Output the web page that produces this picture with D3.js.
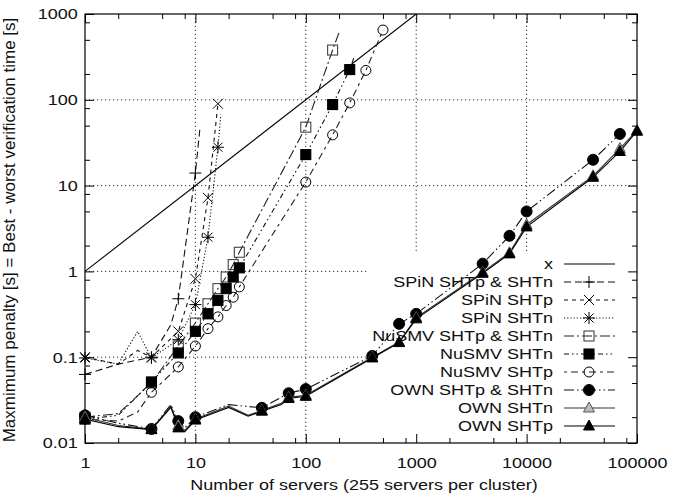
<!DOCTYPE html>
<html>
<head>
<meta charset="utf-8">
<script src="https://cdn.jsdelivr.net/npm/d3@7"></script>
<style>
  body { margin: 0; background: #fff; }
  text { font-family: "Liberation Sans", Arial, sans-serif; fill: #111; }
</style>
</head>
<body>
<svg id="chart" width="686" height="501"></svg>
<script>
// axis ticks
var xTicks = [1, 10, 100, 1000, 10000, 100000];
var xTickLabels = ["1", "10", "100", "1000", "10000", "100000"];
var yTicks = [0.01, 0.1, 1, 10, 100, 1000];
var yTickLabels = ["0.01", "0.1", "1", "10", "100", "1000"];
var minorSteps = [2, 5, 8];
var xGrid = [10, 100, 1000, 10000];
var yGrid = [0.1, 1, 10, 100];

var xLabel = "Number of servers (255 servers per cluster)";
var yLabel = "Maxmimum penalty [s] = Best - worst verification time [s]";

var seriesNames = ["x", "SPiN SHTp & SHTn", "SPiN SHTp", "SPiN SHTn",
  "NuSMV SHTp & SHTn", "NuSMV SHTn", "NuSMV SHTp",
  "OWN SHTp & SHTn", "OWN SHTn", "OWN SHTp"];

// [servers, seconds]
var lineX = [[1, 1], [1000, 1000]];
var spinBoth = [[1, 0.063], [2, 0.083], [4, 0.1], [6, 0.24], [7, 0.48], [10, 14], [11, 47]];
var spinP = [[1, 0.1], [2, 0.083], [3, 0.12], [4, 0.1], [7, 0.2], [10, 0.82], [13, 7.2], [16, 90]];
var spinN = [[1, 0.098], [2, 0.083], [3, 0.2], [4, 0.098], [7, 0.16], [10, 0.41], [13, 2.5], [16, 28], [17, 67]];
var nusmvBoth = [[1, 0.02], [2, 0.022], [4, 0.05], [7, 0.135], [10, 0.25], [13, 0.42], [16, 0.63], [19, 0.86],
  [22, 1.2], [25, 1.67], [100, 48], [175, 380], [200, 610]];
var nusmvN = [[1, 0.019], [2, 0.021], [4, 0.0515], [7, 0.112], [10, 0.2], [13, 0.32], [16, 0.46], [19, 0.63],
  [22, 0.86], [25, 1.1], [100, 23], [175, 88], [250, 225], [275, 320]];
var nusmvP = [[1, 0.019], [2, 0.018], [3, 0.023], [4, 0.039], [7, 0.077], [10, 0.135], [13, 0.215], [16, 0.295],
  [19, 0.4], [22, 0.5], [25, 0.66], [100, 11], [175, 39], [250, 92], [350, 220], [500, 650]];
var ownBoth = [[1, 0.021], [2, 0.017], [4, 0.0146], [6, 0.028], [7, 0.018], [8, 0.015], [10, 0.02], [20, 0.028],
  [40, 0.0257], [70, 0.038], [100, 0.0425], [400, 0.1035], [700, 0.245], [1000, 0.32], [4000, 1.23],
  [7000, 2.6], [10000, 5], [40000, 20], [70000, 40]];
var ownN = [[1, 0.02], [2, 0.016], [4, 0.0145], [6, 0.027], [7, 0.016], [8, 0.014], [10, 0.019], [20, 0.027],
  [30, 0.021], [40, 0.024], [60, 0.029], [70, 0.034], [100, 0.036], [400, 0.1], [700, 0.15], [1000, 0.29],
  [4000, 0.98], [7000, 1.65], [10000, 3.5], [40000, 13], [70000, 27], [100000, 44]];
var ownP = [[1, 0.019], [2, 0.0155], [4, 0.0143], [6, 0.026], [7, 0.015], [8, 0.0135], [10, 0.0185], [20, 0.026],
  [30, 0.0205], [40, 0.0235], [60, 0.028], [70, 0.033], [100, 0.035], [400, 0.098], [700, 0.148], [1000, 0.28],
  [4000, 0.95], [7000, 1.6], [10000, 3.3], [40000, 12.5], [70000, 25], [100000, 43]];

// x values that carry a point symbol
var spinMarks = [1, 4, 7, 10, 13, 16];
var nusmvMarks = [1, 4, 7, 10, 13, 16, 19, 22, 25, 100, 175, 250, 350, 500];
var ownMarks = [1, 4, 7, 10, 40, 70, 100, 400, 700, 1000, 4000, 7000, 10000, 40000, 70000, 100000];

var seriesData = [lineX, spinBoth, spinP, spinN, nusmvBoth, nusmvN, nusmvP, ownBoth, ownN, ownP];
var seriesMarks = [[], [1, 4, 7, 10], spinMarks, spinMarks, nusmvMarks, nusmvMarks, nusmvMarks,
  ownMarks, ownMarks, ownMarks];

// styles
var dashes = ["", "7,4", "4,4", "1.2,2", "10,3,2,3", "5,3,1.5,3,1.5,3", "3,4,7,4", "10,3,1.5,3,1.5,3", "", ""];
var strokes = ["#000", "#111", "#111", "#111", "#222", "#111", "#222", "#111", "#333", "#000"];
var symbols = [null, "plus", "cross", "star", "square", "fsquare", "circle", "fcircle", "triangle", "ftriangle"];

var plotL = 85, plotR = 637, plotT = 14, plotB = 443;
var TS = 1.2; // text is drawn a little wide

var svg = d3.select("#chart");
var x = d3.scaleLog().domain([1, 100000]).range([plotL, plotR]);
var y = d3.scaleLog().domain([0.01, 1000]).range([plotB, plotT]);

function minors(lo, hi) {
  var out = [];
  for (var d = lo; d < hi; d *= 10) minorSteps.forEach(function(m) { out.push(d * m); });
  return out;
}

// grid
var grid = svg.append("g").attr("stroke", "#333").attr("stroke-width", 1).attr("stroke-dasharray", "1.2,2.8");
grid.selectAll(".gx").data(xGrid).enter().append("line")
  .attr("x1", function(d) { return x(d); }).attr("x2", function(d) { return x(d); })
  .attr("y1", plotB).attr("y2", plotT);
grid.selectAll(".gy").data(yGrid).enter().append("line")
  .attr("y1", function(d) { return y(d); }).attr("y2", function(d) { return y(d); })
  .attr("x1", plotL).attr("x2", plotR);

// key box hides the grid
var keyLeft = 367, keyTop = 253;
svg.append("rect").attr("x", keyLeft).attr("y", keyTop).attr("width", plotR - keyLeft).attr("height", plotB - keyTop)
  .attr("fill", "#fff");

// axes
function styleAxis(g) {
  g.select(".domain").remove();
  g.attr("font-family", null).attr("font-size", 15);
  g.selectAll("line").attr("stroke", "#000").attr("stroke-width", 1);
  g.selectAll("text").attr("fill", "#111").attr("transform", "scale(" + TS + ",1)");
}
svg.append("g").attr("transform", "translate(0," + plotB + ")")
  .call(d3.axisBottom(x).tickValues(xTicks).tickFormat(function(d, i) { return xTickLabels[i]; })
    .tickSizeInner(-9).tickSizeOuter(0).tickPadding(14)).call(styleAxis);
svg.append("g").attr("transform", "translate(0," + plotB + ")")
  .call(d3.axisBottom(x).tickValues(minors(1, 100000)).tickFormat("").tickSizeInner(-5).tickSizeOuter(0)).call(styleAxis);
svg.append("g").attr("transform", "translate(0," + plotT + ")")
  .call(d3.axisTop(x).tickValues(xTicks).tickFormat("").tickSizeInner(-9).tickSizeOuter(0)).call(styleAxis);
svg.append("g").attr("transform", "translate(0," + plotT + ")")
  .call(d3.axisTop(x).tickValues(minors(1, 100000)).tickFormat("").tickSizeInner(-5).tickSizeOuter(0)).call(styleAxis);
svg.append("g").attr("transform", "translate(" + plotL + ",0)")
  .call(d3.axisLeft(y).tickValues(yTicks).tickFormat(function(d, i) { return yTickLabels[i]; })
    .tickSizeInner(-9).tickSizeOuter(0).tickPadding(6)).call(styleAxis);
svg.append("g").attr("transform", "translate(" + plotL + ",0)")
  .call(d3.axisLeft(y).tickValues(minors(0.01, 1000)).tickFormat("").tickSizeInner(-5).tickSizeOuter(0)).call(styleAxis);
svg.append("g").attr("transform", "translate(" + plotR + ",0)")
  .call(d3.axisRight(y).tickValues(yTicks).tickFormat("").tickSizeInner(-9).tickSizeOuter(0)).call(styleAxis);
svg.append("g").attr("transform", "translate(" + plotR + ",0)")
  .call(d3.axisRight(y).tickValues(minors(0.01, 1000)).tickFormat("").tickSizeInner(-5).tickSizeOuter(0)).call(styleAxis);

svg.append("rect").attr("x", plotL).attr("y", plotT).attr("width", plotR - plotL).attr("height", plotB - plotT)
  .attr("fill", "none").attr("stroke", "#000").attr("stroke-width", 1.2);

// axis titles
svg.append("text").attr("transform", "scale(" + TS + ",1)")
  .attr("x", 364 / TS).attr("y", 490).attr("text-anchor", "middle").attr("font-size", 15).text(xLabel);
svg.append("text").attr("transform", "translate(15,230) rotate(-90)")
  .attr("text-anchor", "middle").attr("font-size", 17).text(yLabel);

// point symbols
function drawSymbol(g, type, cx, cy) {
  var s = 5;
  if (type == "plus") {
    g.append("path").attr("d", "M" + (cx - 6) + "," + cy + "H" + (cx + 6) + "M" + cx + "," + (cy - 6) + "V" + (cy + 6))
      .attr("stroke", "#000").attr("stroke-width", 1);
  } else if (type == "cross") {
    g.append("path").attr("d", "M" + (cx - s) + "," + (cy - s) + "L" + (cx + s) + "," + (cy + s) +
      "M" + (cx - s) + "," + (cy + s) + "L" + (cx + s) + "," + (cy - s)).attr("stroke", "#000").attr("stroke-width", 1);
  } else if (type == "star") {
    g.append("path").attr("d", "M" + (cx - 6) + "," + cy + "H" + (cx + 6) + "M" + cx + "," + (cy - 6) + "V" + (cy + 6) +
      "M" + (cx - 4.5) + "," + (cy - 4.5) + "L" + (cx + 4.5) + "," + (cy + 4.5) +
      "M" + (cx - 4.5) + "," + (cy + 4.5) + "L" + (cx + 4.5) + "," + (cy - 4.5)).attr("stroke", "#000").attr("stroke-width", 1);
  } else if (type == "square" || type == "fsquare") {
    g.append("rect").attr("x", cx - s).attr("y", cy - s).attr("width", 2 * s).attr("height", 2 * s)
      .attr("fill", type == "fsquare" ? "#000" : "none").attr("stroke", type == "fsquare" ? "#000" : "#444").attr("stroke-width", 1.1);
  } else if (type == "circle" || type == "fcircle") {
    g.append("circle").attr("cx", cx).attr("cy", cy).attr("r", type == "fcircle" ? 5.5 : 5)
      .attr("fill", type == "fcircle" ? "#000" : "none").attr("stroke", "#000").attr("stroke-width", 1);
  } else if (type == "triangle" || type == "ftriangle") {
    g.append("path").attr("d", "M" + cx + "," + (cy - 6) + "L" + (cx + 5.5) + "," + (cy + 4) + "L" + (cx - 5.5) + "," + (cy + 4) + "Z")
      .attr("fill", type == "ftriangle" ? "#000" : "#bbb").attr("stroke", type == "ftriangle" ? "#000" : "#555").attr("stroke-width", 1);
  }
}

// key
var key = svg.append("g");
seriesNames.forEach(function(name, i) {
  var ky = 264 + 18 * i;
  key.append("text").attr("transform", "scale(" + TS + ",1)")
    .attr("x", 553 / TS).attr("y", ky).attr("dy", "0.35em").attr("text-anchor", "end").attr("font-size", 15).text(name);
  key.append("line").attr("x1", 564).attr("x2", 615).attr("y1", ky).attr("y2", ky)
    .attr("stroke", strokes[i]).attr("stroke-width", 1.1).attr("stroke-dasharray", dashes[i] || null);
  if (symbols[i]) drawSymbol(key, symbols[i], 589, ky);
});

// curves
svg.append("clipPath").attr("id", "plotClip").append("rect")
  .attr("x", plotL).attr("y", plotT).attr("width", plotR - plotL).attr("height", plotB - plotT);
var line = d3.line().x(function(d) { return x(d[0]); }).y(function(d) { return y(d[1]); });
var curves = svg.append("g").attr("clip-path", "url(#plotClip)");
var marks = svg.append("g");
seriesData.forEach(function(data, i) {
  curves.append("path").attr("d", line(data)).attr("fill", "none")
    .attr("stroke", strokes[i]).attr("stroke-width", 1.1).attr("stroke-dasharray", dashes[i] || null);
  if (!symbols[i]) return;
  data.forEach(function(d) {
    if (seriesMarks[i].indexOf(d[0]) < 0) return;
    if (y(d[1]) < plotT || y(d[1]) > plotB) return;
    drawSymbol(marks, symbols[i], x(d[0]), y(d[1]));
  });
});
</script>
</body>
</html>
